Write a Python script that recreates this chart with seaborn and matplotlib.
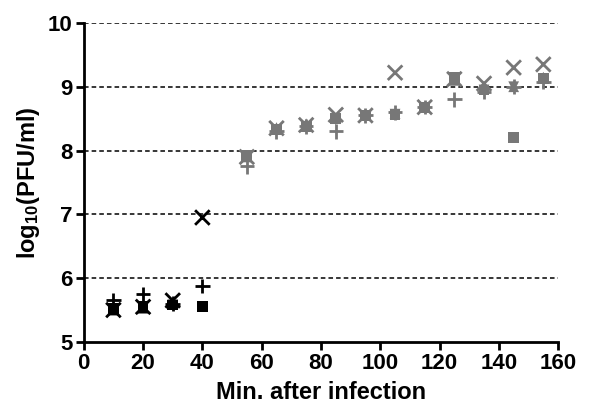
import numpy as np
import pandas as pd
import matplotlib
matplotlib.use('Agg')
import matplotlib.pyplot as plt
import seaborn as sns

sns.set_style('ticks', {'axes.edgecolor': 'black', 'text.color': 'black',
                        'xtick.color': 'black', 'ytick.color': 'black',
                        'axes.labelcolor': 'black'})
plt.rcParams['font.family'] = ['Liberation Sans', 'DejaVu Sans']
plt.rcParams['mathtext.fontset'] = 'custom'
plt.rcParams['mathtext.rm'] = 'Liberation Sans:bold'
plt.rcParams['mathtext.bf'] = 'Liberation Sans:bold'
plt.rcParams['mathtext.default'] = 'bf'

# minutes after infection
minutes = [10, 20, 30, 40, 55, 65, 75, 85, 95, 105, 115, 125, 135, 145, 155]
# log10(PFU/ml), one list per replicate (marker)
rep_square = [5.52, 5.55, 5.58, 5.56, 7.92, 8.33, 8.38, 8.50, 8.55, 8.57, 8.67, 9.15, 8.95, 8.20, 9.13]
rep_up = [5.50, 5.53, 5.60, np.nan, 7.90, 8.36, 8.42, 8.50, 8.55, 8.58, 8.68, 9.10, 8.98, 9.00, 9.15]
rep_down = [5.52, 5.55, 5.58, np.nan, 7.92, 8.32, 8.38, 8.48, 8.52, 8.57, 8.66, 9.12, 8.95, 9.00, 9.12]
rep_x = [5.50, 5.55, 5.65, 6.95, 7.90, 8.35, 8.40, 8.56, 8.55, 9.22, 8.68, 9.12, 9.05, 9.30, 9.35]
rep_plus = [5.65, 5.75, 5.60, 5.88, 7.75, 8.30, 8.38, 8.30, 8.55, 8.60, 8.68, 8.80, 8.92, 9.00, 9.08]

reps = [('s', rep_square), ('^', rep_up), ('v', rep_down), ('x', rep_x), ('+', rep_plus)]
pal = {'early': 'black', 'late': '#777777'}

fig = plt.figure(figsize=(5.9, 4.17), dpi=100)
ax = fig.add_axes([0.142, 0.18, 0.804, 0.765])

for y in [6, 7, 8, 9, 10]:
    ax.axhline(y, color='black', ls=(0, (3, 2)), lw=1.1, zorder=0)

for marker, vals in reps:
    df = pd.DataFrame({'min': minutes, 'pfu': vals})
    df['phase'] = np.where(df['min'] <= 40, 'early', 'late')
    df = df.dropna()
    if marker in ('x', '+'):
        sns.scatterplot(data=df, x='min', y='pfu', hue='phase', palette=pal, marker=marker,
                        s=110, linewidth=2, legend=False, ax=ax, zorder=3)
    else:
        sns.scatterplot(data=df, x='min', y='pfu', hue='phase', palette=pal, marker=marker,
                        s=60, linewidth=0, legend=False, ax=ax, zorder=3)

ax.set_xlim(0, 160)
ax.set_ylim(5, 10)
ax.set_xticks(range(0, 161, 20))
ax.set_yticks(range(5, 11))
ax.set_xlabel('Min. after infection', fontsize=17, fontweight='bold', labelpad=5)
ax.set_ylabel('log$_{10}$(PFU/ml)', fontsize=17, fontweight='bold', labelpad=4)
ax.tick_params(labelsize=16, width=2, length=6, direction='out', pad=2)
for lab in ax.get_xticklabels() + ax.get_yticklabels():
    lab.set_fontweight('bold')
for side in ['top', 'right']:
    ax.spines[side].set_visible(False)
for side in ['left', 'bottom']:
    ax.spines[side].set_linewidth(2)

fig.savefig('out.png', dpi=100)
